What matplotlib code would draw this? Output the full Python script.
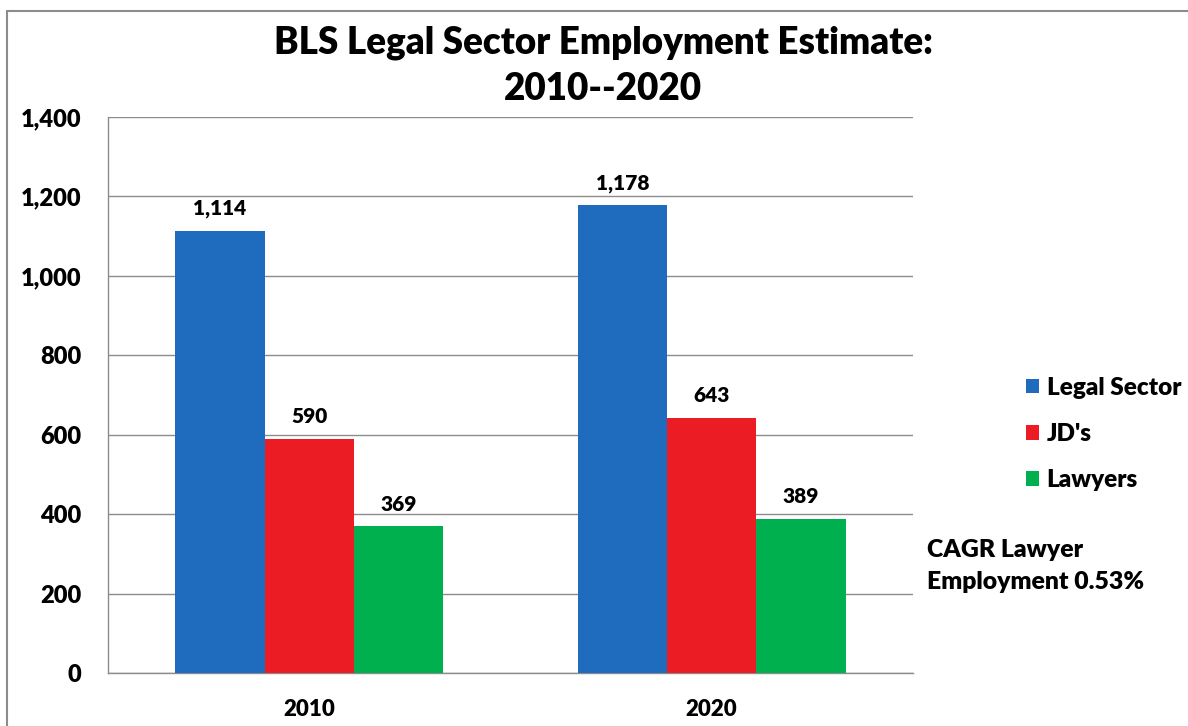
import matplotlib.pyplot as plt
import numpy as np
from matplotlib.patches import Circle, Rectangle

plt.rcParams["font.family"] = ["Lato", "DejaVu Sans"]
plt.rcParams["font.weight"] = "heavy"

# data (thousands)
years = ["2010", "2020"]
series_names = ["Legal Sector", "JD's", "Lawyers"]
legal_sector = [1114, 1178]
jds = [590, 643]
lawyers = [369, 389]
series_colors = ["#1F6CBE", "#EC1C24", "#00B04F"]
y_ticks = [0, 200, 400, 600, 800, 1000, 1200, 1400]

W = "heavy"

fig = plt.figure(figsize=(11.88, 7.26), dpi=100)
ax = fig.add_axes([108 / 1188, 1 - 673 / 726, (913 - 108) / 1188, (673 - 117) / 726])

x = np.arange(len(years))
width = 0.222
all_series = [legal_sector, jds, lawyers]
for i, (vals, name, color) in enumerate(zip(all_series, series_names, series_colors)):
    bars = ax.bar(x + (i - 1) * width, vals, width, color=color, label=name, zorder=3)
    for b, v in zip(bars, vals):
        ax.annotate(f"{v:,}", (b.get_x() + b.get_width() / 2, v),
                    xytext=(0, 9), textcoords="offset points",
                    ha="center", va="bottom", fontsize=15, fontweight=W)

ax.set_xlim(-0.5, 1.5)
ax.set_ylim(0, 1400)
ax.set_yticks(y_ticks)
ax.set_yticklabels([f"{t:,}" for t in y_ticks], fontsize=17, fontweight=W)
ax.set_xticks(x)
ax.set_xticklabels(years, fontsize=16, fontweight=W)
ax.tick_params(axis="both", length=0)
ax.tick_params(axis="y", pad=19)
ax.tick_params(axis="x", pad=19)
ax.yaxis.grid(True, color="#8c8c8c", linewidth=1.0, zorder=0)
ax.set_axisbelow(True)
for s in ["top", "right"]:
    ax.spines[s].set_visible(False)
for s in ["left", "bottom"]:
    ax.spines[s].set_color("#8c8c8c")
    ax.spines[s].set_linewidth(1.0)

# title
fig.text(603 / 1188, 1 - 43 / 726, "BLS Legal Sector Employment Estimate:",
         ha="center", va="center", fontsize=26.5, fontweight=W)
fig.text(603 / 1188, 1 - 89 / 726, "2010--2020",
         ha="center", va="center", fontsize=26.5, fontweight=W)

# legend
fig.legend(loc="center left", bbox_to_anchor=(1004 / 1188, 1 - 434 / 726),
           frameon=False, handlelength=0.55, handleheight=0.55,
           handletextpad=0.3, labelspacing=1.0, prop={"weight": W, "size": 17.5})

# note
fig.text(927 / 1188, 1 - 550 / 726, "CAGR Lawyer", ha="left", va="center",
         fontsize=17.8, fontweight=W)
fig.text(927 / 1188, 1 - 582 / 726, "Employment 0.53%", ha="left", va="center",
         fontsize=17.8, fontweight=W)

# outer frame
fig.add_artist(Rectangle((7 / 1188, -0.1), 1.2, 1.1 - 11 / 726, transform=fig.transFigure,
                         fill=False, edgecolor="#8c8c8c", linewidth=1.5))
# green circle at the corner
fig.add_artist(Circle((1105 / 1188, 1 - 762 / 726), 42 / 1188, transform=fig.transFigure,
                      color="#77C043", clip_on=False))

fig.savefig("out.png", dpi=100)
